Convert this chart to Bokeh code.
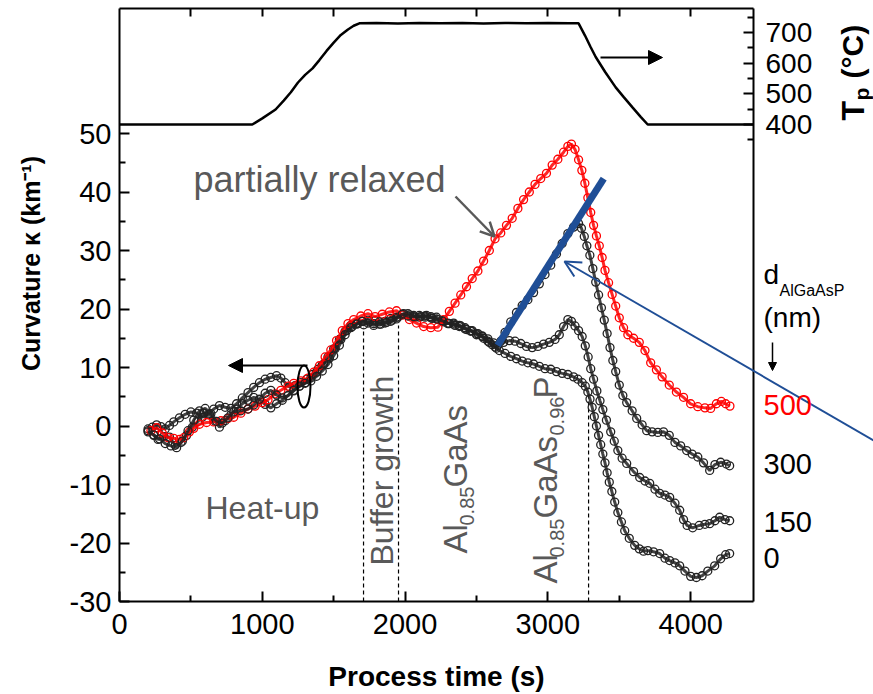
import math
from bokeh.plotting import figure
from bokeh.models import Range1d, LinearAxis, FixedTicker, Label, Arrow, NormalHead, OpenHead
from bokeh.embed import file_html
from bokeh.resources import INLINE

# ---------------- data ----------------
temp_t = [0, 930, 1000, 1093, 1150, 1200, 1250, 1300, 1352, 1400, 1450, 1500, 1550, 1600, 1640, 1680,
          1800, 1950, 2100, 2250, 2400, 2550, 2700, 2850, 3000, 3150, 3215, 3260, 3300, 3335, 3400,
          3475, 3530, 3594, 3650, 3699, 4440]
temp_v = [400, 400, 420, 449, 478, 505, 537, 562, 583, 610, 640, 667, 692, 710, 722, 730,
          731, 729, 731, 730, 731, 729, 731, 730, 731, 730, 730, 690, 652, 620, 572,
          521, 490, 455, 425, 400, 400]

t_500 = [220, 260, 300, 340, 380, 420, 450, 490, 520, 560, 610, 660, 710, 760, 800, 850, 900, 950,
         1000, 1040, 1090, 1130, 1180, 1220, 1270, 1320, 1360, 1400, 1440, 1480, 1520, 1560, 1600,
         1640, 1690, 1740, 1790, 1840, 1890, 1940, 1980, 2030, 2080, 2130, 2180, 2230, 2270, 2310,
         2350, 2390, 2430, 2470, 2510, 2550, 2590, 2630, 2670, 2710, 2750, 2790, 2830, 2870, 2910,
         2950, 2990, 3030, 3070, 3110, 3140, 3165, 3190, 3215, 3238, 3259, 3280, 3300, 3320, 3340,
         3360, 3380, 3400, 3425, 3450, 3475, 3500, 3530, 3560, 3600, 3640, 3680, 3720, 3760, 3800,
         3850, 3900, 3950, 4000, 4050, 4100, 4140, 4180, 4215, 4245, 4275]
k_500 = [-0.8, -0.3, -1.2, -2.0, -2.1, -2.3, -2.0, -1.0, -0.4, 0.3, 0.6, 0.7, 0.9, 1.3, 1.5, 2.2, 2.9, 3.4,
         4.0, 4.5, 5.5, 6.1, 6.8, 7.3, 7.7, 8.2, 9.2, 10.3, 11.8, 13.0, 14.6, 16.3, 17.5,
         18.2, 18.8, 19.2, 18.7, 19.1, 19.5, 19.7, 19.0, 18.2, 17.6, 17.0, 16.8, 16.9, 18.2, 19.6,
         21.0, 22.4, 23.8, 25.2, 26.5, 28.2, 30.0, 32.0, 33.0, 34.3, 35.5, 37.2, 38.7, 40.0, 41.3,
         42.3, 43.2, 44.6, 45.6, 46.8, 47.8, 48.2, 47.3, 45.5, 43.7, 41.5, 39.0, 36.5, 34.3, 32.5,
         30.8, 28.8, 26.6, 24.5, 22.5, 20.5, 18.5, 16.8, 15.6, 15.0, 14.3, 12.9, 10.8, 9.6, 8.4,
         7.0, 5.8, 4.9, 3.8, 3.3, 3.1, 3.0, 3.8, 4.2, 3.8, 3.4]

t_300 = [200, 240, 280, 320, 360, 400, 440, 480, 520, 560, 600, 640, 680, 720, 760, 800, 850, 900,
         940, 980, 1020, 1060, 1100, 1140, 1180, 1220, 1260, 1300, 1340, 1380, 1420, 1460, 1500,
         1540, 1580, 1620, 1660, 1700, 1740, 1780, 1820, 1860, 1900, 1940, 1980, 2020, 2060, 2100,
         2140, 2180, 2220, 2260, 2300, 2340, 2380, 2420, 2460, 2500, 2540, 2580, 2610, 2640, 2670,
         2700, 2740, 2780, 2820, 2860, 2900, 2940, 2980, 3020, 3060, 3100, 3140, 3180, 3215, 3235,
         3255, 3273, 3294, 3315, 3335, 3355, 3375, 3395, 3415, 3435, 3455, 3475, 3500, 3525, 3552,
         3590, 3622, 3660, 3692, 3730, 3770, 3810, 3850, 3890, 3930, 3972, 4010, 4050, 4090, 4133,
         4170, 4210, 4250, 4273]
k_300 = [-1.0, -1.5, -2.2, -3.0, -3.4, -3.7, -2.6, -0.8, 1.0, 2.6, 3.0, 2.1, 0.8, 0.5, 1.4, 2.4, 2.6, 2.9,
         3.6, 4.6, 5.6, 6.1, 5.3, 4.8, 5.2, 6.1, 6.8, 7.3, 7.7, 8.5, 9.4, 10.5, 12.0,
         13.8, 15.6, 16.8, 17.4, 17.9, 17.6, 17.2, 17.8, 17.6, 17.9, 18.3, 19.1, 18.8, 18.7, 18.9,
         18.6, 18.7, 18.3, 18.0, 17.6, 17.4, 17.0, 16.8, 16.2, 15.8, 15.4, 14.5, 13.9, 13.3, 14.5,
         16.0, 17.8, 19.4, 20.6, 21.6, 22.8, 24.3, 25.9, 27.5, 29.4, 31.2, 32.9, 34.0, 34.6, 33.8,
         32.4, 30.8, 29.2, 26.9, 24.6, 22.4, 20.2, 18.1, 15.8, 13.4, 11.2, 9.3, 7.0, 5.2, 4.0,
         2.6, 1.3, 0.2, -0.8, -1.0, -1.1, -1.0, -1.6, -2.8, -3.4, -4.2, -4.8, -5.3, -6.3, -7.6,
         -6.6, -6.2, -6.5, -6.8]

t_150 = [200, 240, 270, 310, 350, 390, 430, 470, 510, 550, 590, 630, 670, 700, 740, 780, 820, 860,
         900, 940, 980, 1020, 1060, 1100, 1140, 1180, 1220, 1260, 1300, 1340, 1380, 1420, 1460,
         1500, 1540, 1580, 1620, 1660, 1700, 1740, 1780, 1820, 1860, 1900, 1940, 1980, 2020, 2060,
         2100, 2140, 2180, 2220, 2260, 2300, 2340, 2380, 2420, 2460, 2500, 2540, 2580, 2620, 2650,
         2690, 2730, 2770, 2810, 2850, 2890, 2930, 2970, 3010, 3050, 3080, 3110, 3140, 3165, 3190,
         3215, 3240, 3262, 3282, 3300, 3320, 3343, 3365, 3385, 3410, 3440, 3465, 3490, 3520, 3552,
         3600, 3643, 3680, 3713, 3750, 3783, 3820, 3853, 3890, 3923, 3950, 3975, 4014, 4060, 4100,
         4133, 4170, 4203, 4240, 4273]
k_150 = [-0.8, -1.6, -2.3, -1.8, -1.9, -3.3, -2.8, -1.6, -0.2, 0.8, 2.2, 2.0, 0.8, -0.2, 0.9, 1.9, 2.9, 3.8,
         4.4, 4.9, 4.5, 3.7, 3.1, 3.8, 4.4, 5.2, 6.0, 6.8, 7.4, 8.2, 9.2, 10.4, 11.8,
         13.2, 14.8, 16.2, 17.2, 17.6, 17.9, 18.1, 17.5, 17.4, 17.9, 18.4, 18.6, 19.0, 19.2, 18.9,
         18.6, 18.8, 18.5, 18.6, 17.9, 17.5, 17.6, 17.2, 16.6, 16.3, 15.6, 15.3, 14.9, 14.2, 13.8,
         14.3, 14.6, 14.5, 14.1, 13.6, 13.4, 13.6, 14.0, 14.3, 14.8, 15.6, 17.0, 18.2, 17.9, 17.1,
         16.3, 15.3, 13.7, 11.8, 9.8, 8.0, 6.0, 4.3, 2.8, 1.0, -1.0, -2.6, -4.2, -5.5, -6.4,
         -7.8, -8.8, -9.4, -9.8, -10.8, -11.5, -11.8, -12.2, -13.2, -14.4, -16.0, -17.0, -17.4, -17.0, -16.8,
         -16.7, -16.2, -15.6, -16.0, -16.2]

t_0 = [200, 230, 260, 290, 320, 350, 380, 420, 460, 500, 540, 580, 620, 660, 700, 740, 780, 820,
       860, 900, 940, 980, 1020, 1060, 1100, 1130, 1160, 1190, 1230, 1270, 1310, 1350, 1390,
       1430, 1470, 1510, 1550, 1590, 1630, 1670, 1710, 1750, 1790, 1830, 1870, 1910, 1950, 1990,
       2030, 2070, 2110, 2150, 2190, 2230, 2270, 2310, 2350, 2390, 2430, 2470, 2510, 2550, 2590,
       2630, 2660, 2700, 2740, 2780, 2820, 2860, 2900, 2940, 2980, 3020, 3060, 3100, 3140, 3180,
       3210, 3240, 3262, 3280, 3295, 3310, 3325, 3340, 3355, 3370, 3385, 3400, 3415, 3430, 3448,
       3468, 3490, 3515, 3538, 3570, 3608, 3640, 3670, 3700, 3740, 3783, 3820, 3853, 3890, 3923,
       3960, 4000, 4040, 4080, 4120, 4168, 4210, 4245, 4273]
k_0 = [-0.5, -0.2, 0.2, -0.1, -0.5, 0.1, 0.7, 1.4, 2.0, 2.4, 2.2, 1.5, 2.0, 2.9, 3.5, 3.2, 3.0, 3.8,
       4.8, 5.7, 6.6, 7.4, 8.0, 8.3, 8.6, 8.2, 7.4, 6.7, 6.9, 7.4, 8.0, 8.8, 9.7,
       10.6, 11.6, 13.2, 14.8, 16.3, 17.0, 17.5, 17.3, 17.8, 18.0, 17.4, 17.7, 18.1, 18.6, 19.2,
       19.0, 18.6, 18.7, 18.9, 18.4, 18.2, 17.8, 17.5, 17.2, 17.1, 16.5, 16.3, 15.8, 15.0, 14.3,
       13.5, 12.9, 12.4, 11.9, 11.5, 11.1, 10.8, 10.6, 10.2, 9.8, 9.7, 9.3, 9.0, 8.8, 8.4,
       8.0, 7.4, 6.8, 5.8, 4.6, 3.2, 1.6, 0.0, -1.6, -3.2, -4.8, -6.3, -8.0, -9.6, -11.2,
       -13.0, -14.8, -16.4, -17.9, -19.2, -20.4, -21.0, -21.4, -21.3, -21.5, -21.8, -22.6, -23.0, -23.4, -23.9,
       -24.8, -25.7, -25.9, -25.6, -24.8, -23.9, -22.7, -22.0, -21.8]

fit_t = [2648, 3391]          # thick blue guide line
fit_k = [13.8, 42.3]

x_ticks = [0, 1000, 2000, 3000, 4000]
x_minor = [500, 1500, 2500, 3500]
y_ticks = [-30, -20, -10, 0, 10, 20, 30, 40, 50]
y_minor = [-25, -15, -5, 5, 15, 25, 35, 45]
temp_ticks = [400, 500, 600, 700]
temp_minor = [350, 450, 550, 650, 750]
layer_marks = [1709, 1954, 3285]       # dashed lines (s)
layer_tops = [16.8, 17.2, 6.0]

# ---------------- layout (frame = whole canvas, axes fixed in place) ----------------
W, H = 873, 694
PX0, PX_PER_S = 119, 634 / 4440        # x pixel of t=0, pixels per second
PY0, PX_PER_K = 133, 5.85              # y pixel of kappa=50, pixels per km^-1
PT0, PX_PER_C = 32, 0.30667            # y pixel of 700 C, pixels per degree
X_END = 4440
FONT = "Liberation Sans"
GRAY = "#595959"
BLUE = "#1f4e96"


def sx(px):
    return (px - PX0) / PX_PER_S


def sy(py):
    return 50 - (py - PY0) / PX_PER_K


def st(py):
    return 700 - (py - PT0) / PX_PER_C


p = figure(width=W, height=H, x_range=Range1d(sx(0), sx(W)), y_range=Range1d(sy(H), sy(0)),
           output_backend="svg", toolbar_location=None,
           min_border_left=0, min_border_right=0, min_border_top=0, min_border_bottom=0)
p.extra_y_ranges = {"temp": Range1d(st(H), st(0))}
p.grid.visible = False
p.outline_line_color = None
p.background_fill_color = "white"
p.border_fill_color = "white"


def style_axis(ax, tin, mtin, size="29px", standoff=10):
    ax.major_tick_in = tin
    ax.major_tick_out = 0
    ax.minor_tick_in = mtin
    ax.minor_tick_out = 0
    ax.axis_line_width = 2
    ax.major_tick_line_width = 2
    ax.minor_tick_line_width = 2
    ax.major_label_text_font = FONT
    ax.major_label_text_font_size = size
    ax.major_label_text_color = "black"
    ax.major_label_standoff = standoff


xa = p.xaxis[0]
xa.ticker = FixedTicker(ticks=x_ticks, minor_ticks=x_minor)
xa.fixed_location = -30
xa.bounds = (0, X_END)
style_axis(xa, 10, 6, standoff=12)

ya = p.yaxis[0]
ya.ticker = FixedTicker(ticks=y_ticks, minor_ticks=y_minor)
ya.major_label_overrides = {v: str(v) for v in y_ticks}
ya.fixed_location = 0
ya.bounds = (-30, sy(8))
style_axis(ya, 10, 6, standoff=8)

ra = LinearAxis(y_range_name="temp", ticker=FixedTicker(ticks=temp_ticks, minor_ticks=temp_minor),
                fixed_location=X_END, bounds=(st(601), st(8)))
style_axis(ra, 10, 6, size="28px", standoff=12)
p.add_layout(ra, "right")

ta = LinearAxis(ticker=FixedTicker(ticks=[], minor_ticks=[500, 1000, 1500, 2000, 2500, 3000, 3500, 4000]),
                fixed_location=sy(8), bounds=(0, X_END))
style_axis(ta, 0, 8)
p.add_layout(ta, "above")

# temperature
p.line(temp_t, temp_v, y_range_name="temp", line_color="black", line_width=2.5)

# dashed layer boundaries
p.segment(x0=layer_marks, y0=[-30] * 3, x1=layer_marks, y1=layer_tops,
          line_color="black", line_width=1.2, line_dash="4 3")

# curvature series
series = [(t_0, k_0, "#222222"), (t_150, k_150, "#222222"), (t_500, k_500, "#ff0000"),
          (t_300, k_300, "#222222")]
for t, k, c in series:
    p.line(t, k, line_color=c, line_width=3, line_alpha=0.85)
    p.scatter(t, k, marker="circle", size=8, fill_color=None, line_color=c, line_width=1.3)

# blue guide line
p.line(fit_t, fit_k, line_color=BLUE, line_width=7)

# ellipse and arrows
p.ellipse(x=[1292], y=[6.75], width=91, height=7.2, fill_color=None, line_color="black", line_width=2)
p.add_layout(Arrow(x_start=sx(307), y_start=sy(365), x_end=sx(228), y_end=sy(365),
                   line_color="black", line_width=2,
                   end=NormalHead(size=14, fill_color="black", line_color="black")))
p.add_layout(Arrow(x_start=sx(600), y_start=st(57), x_end=sx(662), y_end=st(57), y_range_name="temp",
                   line_color="black", line_width=2,
                   end=NormalHead(size=14, fill_color="black", line_color="black")))
p.add_layout(Arrow(x_start=sx(455), y_start=sy(196), x_end=sx(494), y_end=sy(236),
                   line_color=GRAY, line_width=2.5,
                   end=OpenHead(size=14, line_color=GRAY, line_width=2.5)))
p.add_layout(Arrow(x_start=sx(875), y_start=sy(441), x_end=sx(564), y_end=sy(261),
                   line_color=BLUE, line_width=2,
                   end=OpenHead(size=16, line_color=BLUE, line_width=2)))
p.add_layout(Arrow(x_start=sx(772), y_start=sy(342), x_end=sx(772), y_end=sy(370),
                   line_color="black", line_width=1.5,
                   end=NormalHead(size=8, fill_color="black", line_color="black")))


def lab(px, py, text, size, color="black", bold=False, angle=0.0, align="left"):
    # (px, py) is the centre line of the text (middle baseline)
    p.add_layout(Label(x=sx(px), y=sy(py), text=text, text_font=FONT, text_font_size=f"{size}px",
                       text_color=color, text_font_style="bold" if bold else "normal",
                       angle=angle, text_baseline="middle", text_align=align))


R = math.pi / 2
# axis titles
lab(436, 676, "Process time (s)", 28, bold=True, align="center")
lab(30, 263, "Curvature \u03ba (km\u207b\u00b9)", 25, bold=True, angle=R, align="center")
lab(852, 120, "T", 32, bold=True, angle=R)
lab(861, 100, "p", 21, bold=True, angle=R)
lab(852, 78, "(\u00b0C)", 30, bold=True, angle=R)

# annotations
lab(193, 179, "partially relaxed", 36, GRAY)
lab(205, 507, "Heat-up", 32, GRAY)
lab(381, 565, "Buffer growth", 32, GRAY, angle=R)
lab(455, 553, "Al", 33, GRAY, angle=R)
lab(466, 525, "0.85", 20, GRAY, angle=R)
lab(455, 487, "GaAs", 33, GRAY, angle=R)
lab(545, 583, "Al", 33, GRAY, angle=R)
lab(556, 557, "0.85", 20, GRAY, angle=R)
lab(545, 518, "GaAs", 33, GRAY, angle=R)
lab(556, 435, "0.96", 20, GRAY, angle=R)
lab(545, 398, "P", 33, GRAY, angle=R)

# thickness legend
lab(763, 274, "d", 28)
lab(779, 290, "AlGaAsP", 16)
lab(763, 317, "(nm)", 28)
lab(763, 404, "500", 29, "#ff0000")
lab(763, 463, "300", 29)
lab(763, 521, "150", 29)
lab(763, 557, "0", 29)

open("out.html", "w").write(file_html(p, INLINE))
